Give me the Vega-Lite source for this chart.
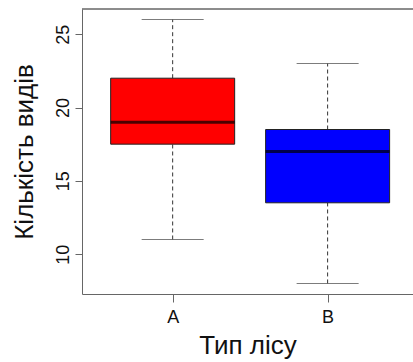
{
  "$schema": "https://vega.github.io/schema/vega-lite/v6.json",
  "width": 331,
  "height": 285,
  "autosize": {"type": "none"},
  "padding": {"left": 82, "top": 9, "right": 0, "bottom": 68},
  "background": "white",
  "view": {"stroke": null},
  "config": {
    "font": "Liberation Sans",
    "axis": {"domainColor": "#666", "tickColor": "#666", "labelColor": "#111", "titleColor": "#111", "grid": false, "labelFont": "Liberation Sans", "titleFont": "Liberation Sans", "titleFontWeight": "normal"}
  },
  "data": {"values": [
    {"group": "A", "lower": 11, "q1": 17.5, "median": 19, "q3": 22, "upper": 26},
    {"group": "B", "lower": 8, "q1": 13.5, "median": 17, "q3": 18.5, "upper": 23}
  ]},
  "layer": [
    {"mark": {"type": "rule", "color": "#333", "strokeDash": [4, 3], "strokeWidth": 1},
      "encoding": {
        "x": {"field": "group", "type": "nominal", "scale": {"type": "point", "padding": 0.568, "align": 0.515},
          "axis": {"title": "Тип лісу", "labelAngle": 0, "labelFontSize": 18, "titleFontSize": 26, "tickSize": 8, "labelPadding": 6, "titlePadding": 6}},
        "y": {"field": "lower", "type": "quantitative", "scale": {"domain": [7.28, 26.72], "nice": false, "zero": false},
        "axis": {"title": "Кількість видів", "values": [10, 15, 20, 25], "labelAngle": -90, "labelFontSize": 18, "titleFontSize": 26, "tickSize": 7, "labelPadding": 3, "titlePadding": 17}},
        "y2": {"field": "q1"}}},
    {"mark": {"type": "rule", "color": "#333", "strokeDash": [4, 3], "strokeWidth": 1},
      "encoding": {"x": {"field": "group", "type": "nominal"}, "y": {"field": "q3", "type": "quantitative"}, "y2": {"field": "upper"}}},
    {"mark": {"type": "tick", "color": "#444", "size": 62, "thickness": 1},
      "encoding": {"x": {"field": "group", "type": "nominal"}, "y": {"field": "lower", "type": "quantitative"}}},
    {"mark": {"type": "tick", "color": "#444", "size": 62, "thickness": 1},
      "encoding": {"x": {"field": "group", "type": "nominal"}, "y": {"field": "upper", "type": "quantitative"}}},
    {"mark": {"type": "bar", "size": 124, "stroke": "#222", "strokeWidth": 1},
      "encoding": {"x": {"field": "group", "type": "nominal"}, "y": {"field": "q1", "type": "quantitative"}, "y2": {"field": "q3"},
        "color": {"field": "group", "type": "nominal", "scale": {"domain": ["A", "B"], "range": ["#FF0000", "#0000FF"]}, "legend": null}}},
    {"mark": {"type": "tick", "color": "#000", "size": 124, "thickness": 3},
      "encoding": {"x": {"field": "group", "type": "nominal"}, "y": {"field": "median", "type": "quantitative"}}},
    {"mark": {"type": "rule", "color": "#666", "strokeWidth": 1},
      "encoding": {"y": {"datum": 26.72}}}
  ]
}
